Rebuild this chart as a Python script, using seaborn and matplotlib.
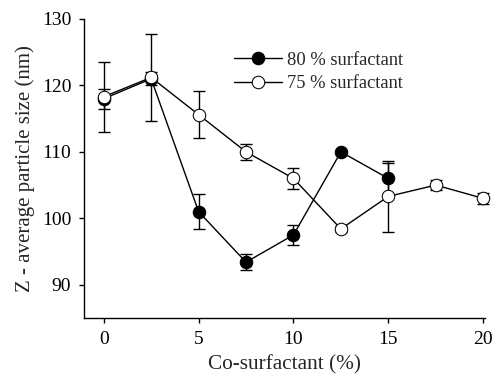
import matplotlib
matplotlib.use("Agg")
import matplotlib.pyplot as plt
import seaborn as sns
import pandas as pd
import numpy as np

x80 = [0, 2.5, 5, 7.5, 10, 12.5, 15]
y80 = [118.0, 121.0, 101.0, 93.4, 97.5, 110.0, 106.0]
e80 = [1.5, 1.0, 2.6, 1.2, 1.5, 0.3, 2.3]

x75 = [0, 2.5, 5, 7.5, 10, 12.5, 15, 17.5, 20]
y75 = [118.3, 121.2, 115.6, 110.0, 106.0, 98.4, 103.3, 105.0, 103.0]
e75 = [5.3, 6.6, 3.5, 1.2, 1.6, 0.4, 5.3, 0.8, 0.8]

label80 = "80 % surfactant"
label75 = "75 % surfactant"

sns.set_style("ticks")
plt.rcParams['font.family'] = ['Liberation Serif', 'DejaVu Serif']

fig = plt.figure(figsize=(4.93, 3.76), dpi=100)
ax = fig.add_axes([0.170, 0.1543, 0.814, 0.7952])

df = pd.concat([
    pd.DataFrame({"x": x80, "y": y80, "s": label80}),
    pd.DataFrame({"x": x75, "y": y75, "s": label75}),
])

ax.errorbar(x80, y80, yerr=e80, fmt='none', ecolor='black', elinewidth=1, capsize=4, capthick=1, zorder=2)
sns.lineplot(data=df[df.s == label80], x="x", y="y", ax=ax, color='black', lw=1,
             marker='o', markersize=9, markerfacecolor='black', markeredgecolor='black',
             label=label80, zorder=3)
ax.errorbar(x75, y75, yerr=e75, fmt='none', ecolor='black', elinewidth=1, capsize=4, capthick=1, zorder=4)
sns.lineplot(data=df[df.s == label75], x="x", y="y", ax=ax, color='black', lw=1,
             marker='o', markersize=9, markerfacecolor='white', markeredgecolor='black',
             label=label75, zorder=5)
for ln in ax.lines:
    ln.set_clip_on(False)

ax.set_xlim(-1.05, 20.1)
ax.set_ylim(85, 130)
ax.set_xticks([0, 5, 10, 15, 20])
ax.set_yticks([90, 100, 110, 120, 130])
ax.tick_params(direction='out', length=3.5, width=1, labelsize=14, colors='black')
ax.tick_params(axis='y', pad=5.5)
ax.tick_params(axis='x', pad=6)
for s in ['left', 'bottom']:
    ax.spines[s].set_linewidth(1)
    ax.spines[s].set_color('black')
sns.despine(ax=ax)

ax.set_xlabel("Co-surfactant (%)", fontsize=15.3, labelpad=5)
ax.set_ylabel("Z - average particle size (nm)", fontsize=15, labelpad=5)

ax.legend(loc='upper left', bbox_to_anchor=(0.355, 0.915), frameon=False, fontsize=13.3,
          handlelength=2.6, handletextpad=0.3, labelspacing=0.35, borderaxespad=0)

fig.savefig("out.png", dpi=100)
